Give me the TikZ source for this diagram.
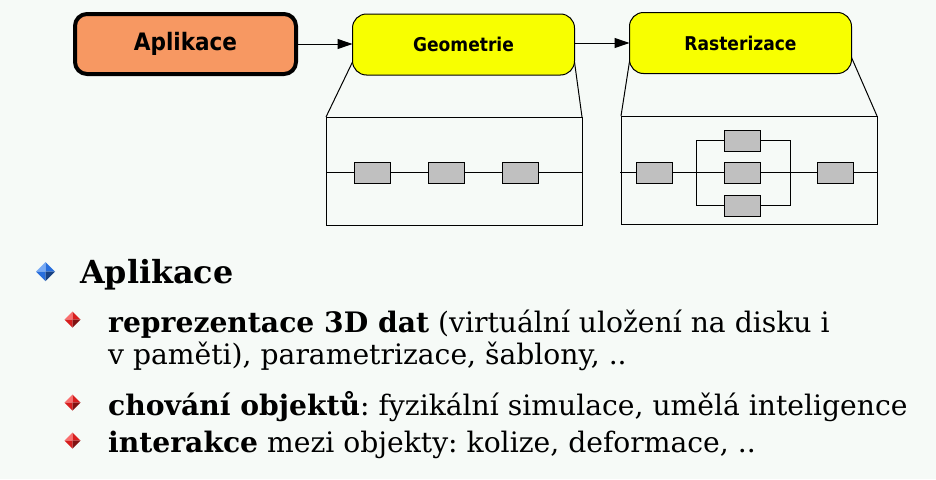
\documentclass[tikz,border=0pt]{standalone}
\usepackage{fontspec}
\setmainfont{DejaVu Serif}
\newfontfamily\boxfont{DejaVu Sans Condensed}
\usetikzlibrary{arrows.meta}
\frenchspacing
\definecolor{bg}{RGB}{246,250,247}
\definecolor{orangebox}{RGB}{247,152,98}
\definecolor{yellowbox}{RGB}{248,255,0}
\definecolor{blockgray}{RGB}{192,192,192}
\definecolor{bluehi}{RGB}{120,170,245}
\definecolor{bluemid}{RGB}{40,110,220}
\definecolor{redhi}{RGB}{250,110,110}
\definecolor{redmid}{RGB}{215,30,30}
\newcommand\gemshape[5]{%
  \fill[#4] (#1,#2) -- (#1-#3,#2) -- (#1,#2-#3) -- cycle;
  \fill[#5] (#1,#2) -- (#1,#2-#3) -- (#1+#3,#2) -- cycle;
  \fill[#5] (#1,#2) -- (#1-#3,#2) -- (#1,#2+#3) -- cycle;
  \fill[#5!60!black] (#1,#2) -- (#1,#2+#3) -- (#1+#3,#2) -- cycle;
}
\tikzset{
  stage/.style={draw=black, line width=1pt, rounded corners=14pt, outer sep=0pt,
    inner sep=0pt, font=\boxfont\bfseries\fontsize{19}{19}\selectfont},
  block/.style={draw=black, fill=blockgray, line width=1pt, minimum width=36pt,
    minimum height=21pt, inner sep=0pt, outer sep=0pt},
  detail/.style={draw=black, line width=1pt, minimum width=256pt, minimum height=108pt,
    inner sep=0pt, outer sep=0pt},
  arr/.style={line width=1pt, -{Triangle[length=15pt,width=10pt]}},
  thin/.style={line width=1pt},
  body/.style={anchor=base west, inner sep=0pt, font=\fontsize{28.2}{28.2}\selectfont}
}
\begin{document}
\begin{tikzpicture}[x=1pt,y=-1pt]
\fill[bg] (0,0) rectangle (936,479);
\useasboundingbox (0,0) rectangle (936,479);

% pipeline stages
\node[stage, fill=orangebox, line width=4pt, rounded corners=12pt,
  minimum width=221pt, minimum height=60pt,
  font=\boxfont\bfseries\fontsize{24}{24}\selectfont] (app) at (185.5,44) {Aplikace};
\node[stage, fill=yellowbox, minimum width=222pt, minimum height=61pt] (geo) at (463.5,44.5) {Geometrie};
\node[stage, fill=yellowbox, minimum width=222pt, minimum height=61pt] (ras) at (740.5,43) {Rasterizace};

\draw[arr] (app.east) -- (app.east -| geo.west);
\draw[arr] (geo.east |- ras.west) -- (ras.west);

% detail panels
\node[detail] (gdet) at (454,171) {};
\node[detail] (rdet) at (749,170) {};

\draw[thin] (geo.south west) ++(0,-13) -- (gdet.north west);
\draw[thin] (geo.south east) ++(0,-13) -- (gdet.north east);
\draw[thin] (ras.south west) ++(0,-12) -- (rdet.north west);
\draw[thin] (ras.south east) ++(0,-16) -- (rdet.north east);

% geometry pipeline
\coordinate (gl) at (326,172.5);
\coordinate (gr) at (582,172.5);
\draw[thin] (gl) -- (gr);
\node[block] (g1) at (372,172.5) {};
\node[block] (g2) at (446,172.5) {};
\node[block] (g3) at (520,172.5) {};

% raster pipeline
\coordinate (rl) at (620,172.5);
\coordinate (rr) at (877,172.5);
\draw[thin] (rl) -- (rr);
\node[block] (r1) at (654,172.5) {};
\node[block] (rt) at (742,140.5) {};
\node[block] (rm) at (742,172.5) {};
\node[block] (rb) at (742,205.5) {};
\node[block] (r5) at (835,172.5) {};
\draw[thin] (rt.west) -- ++(-28,0) |- (rb.west);
\draw[thin] (rt.east) -- ++(30,0) |- (rb.east);

% bullets
\gemshape{45.5}{271.5}{9.5}{bluehi}{bluemid}
\gemshape{72.5}{319.5}{8}{redhi}{redmid}
\gemshape{72.5}{402.5}{8}{redhi}{redmid}
\gemshape{72.5}{440.5}{8}{redhi}{redmid}

% text
\node[body, font=\bfseries\fontsize{31.8}{31.8}\selectfont] (h1) at (80,283) {Aplikace};
\node[body] (t1) at (108,332) {\textbf{reprezentace 3D dat} (virtuální uložení na disku i};
\node[body] (t2) at (108,364) {v paměti), parametrizace, šablony, ..};
\node[body] (t3) at (108,415) {\textbf{chování objektů}: fyzikální simulace, umělá inteligence};
\node[body] (t4) at (108,452) {\textbf{interakce} mezi objekty: kolize, deformace, ..};
\end{tikzpicture}
\end{document}
